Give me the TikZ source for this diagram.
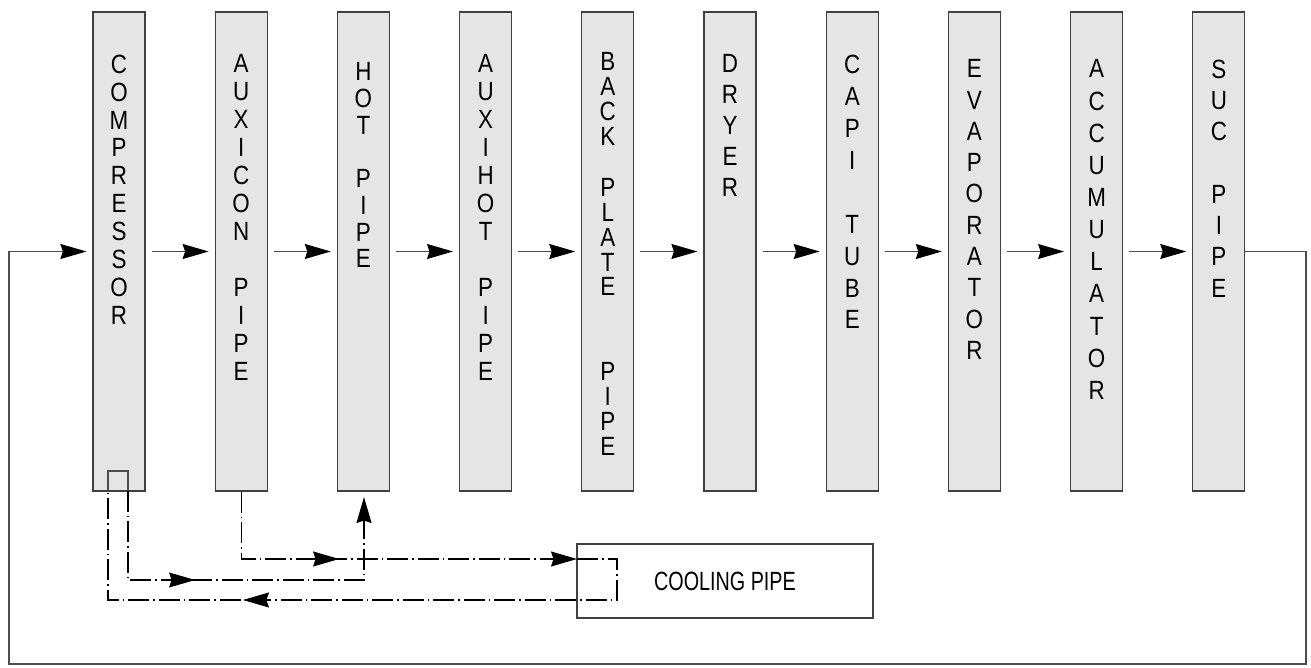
\documentclass[tikz,border=0pt]{standalone}
\usepackage{fontspec}
\setmainfont{Liberation Sans}[FakeStretch=0.85]
\newfontfamily\coolfont{Liberation Sans}[FakeStretch=0.75]
\usepackage{tikz}
\usetikzlibrary{arrows.meta, positioning, decorations.markings}

\begin{document}
\begin{tikzpicture}[
    x=0.02cm, y=-0.02cm,
    node distance=1.38cm,
    unit/.style={rectangle, draw=black!75, fill=black!10, line width=0.7pt, minimum width=1.04cm, minimum height=9.58cm, inner sep=0pt},
    word/.style={align=center, anchor=north, inner sep=0pt, font=\fontsize{15}{#1}\selectfont},
    link/.style={draw=black!70, line width=0.6pt},
    arrow/.style={link, -{Stealth[length=0.52cm, width=0.3cm, inset=0.05cm, black]}, shorten <=0.12cm, shorten >=0.12cm},
    coolant/.style={draw=black, line width=0.6pt, dash pattern=on 0.42cm off 0.08cm on 0.03cm off 0.08cm},
    endtip/.style={-{Stealth[length=0.52cm, width=0.3cm, inset=0.05cm]}},
    midtip/.style={postaction={decorate, decoration={markings, mark=at position #1 with {\arrow{Stealth[length=0.52cm, width=0.3cm, inset=0.05cm]}}}}}
]
\useasboundingbox (0,0) rectangle (1311,668);

% Refrigerant circuit
\node[unit] (comp) at (119,251.5) {};
\node[unit, right=of comp] (auxicon) {};
\node[unit, right=of auxicon] (hot) {};
\node[unit, right=of hot] (auxihot) {};
\node[unit, right=of auxihot] (backplate) {};
\node[unit, right=of backplate] (dryer) {};
\node[unit, right=of dryer] (capi) {};
\node[unit, right=of capi] (evap) {};
\node[unit, right=of evap] (accum) {};
\node[unit, right=of accum] (suc) {};

% Names
\node[word=15.9pt, below=0.86cm of comp.north] (comp-t) {C\\O\\M\\P\\R\\E\\S\\S\\O\\R};
\node[word=15.9pt, below=0.86cm of auxicon.north] (auxicon-t) {A\\U\\X\\I\\C\\O\\N\\~\\P\\I\\P\\E};
\node[word=15.2pt, below=1.02cm of hot.north] (hot-t) {H\\O\\T\\~\\P\\I\\P\\E};
\node[word=15.9pt, below=0.86cm of auxihot.north] (auxihot-t) {A\\U\\X\\I\\H\\O\\T\\~\\P\\I\\P\\E};
\node[word=14.2pt, below=0.82cm of backplate.north] (backplate-t) {B\\A\\C\\K\\[14.5pt]P\\L\\A\\T\\E\\[34pt]P\\I\\P\\E};
\node[word=17.6pt, below=0.86cm of dryer.north] (dryer-t) {D\\R\\Y\\E\\R};
\node[word=18.2pt, below=0.86cm of capi.north] (capi-t) {C\\A\\P\\I\\~\\T\\U\\B\\E};
\node[word=17.8pt, below=0.96cm of evap.north] (evap-t) {E\\V\\A\\P\\O\\R\\A\\T\\O\\R};
\node[word=18.3pt, below=0.96cm of accum.north] (accum-t) {A\\C\\C\\U\\M\\U\\L\\A\\T\\O\\R};
\node[word=17.8pt, below=0.96cm of suc.north] (suc-t) {S\\U\\C\\~\\P\\I\\P\\E};

% Cooling branch
\node[draw=black!75, line width=0.7pt, minimum width=5.92cm, minimum height=1.48cm, font=\coolfont\fontsize{15}{18}\selectfont] (cool) at (725,581) {COOLING PIPE};

% Arrows
\foreach \a/\b in {comp/auxicon, auxicon/hot, hot/auxihot, auxihot/backplate, backplate/dryer, dryer/capi, capi/evap, evap/accum, accum/suc}
    \draw[arrow] (\a) -- (\b);

\coordinate (loopr) at (1306,664);
\coordinate (loopl) at (9,664);
\draw[arrow, shorten <=0pt] (suc.east) -| (loopr) -- (loopl) |- (comp.west);

\coordinate (cin) at (577,559);
\coordinate (cturn) at (617,559);
\coordinate (cback) at (617,600);
\coordinate (cret) at (108,600);
\coordinate (pl) at (108,491);
\coordinate (pr) at (128,491);
\coordinate (hlow) at (364,580);
\coordinate (hport) at (364,491);

\draw[coolant, endtip, midtip=0.41] (auxicon.south) |- (cin);
\draw[coolant, midtip=0.651] (cin) -- (cturn) -- (cback) -- (cret) -- (pl);
\draw[link] (pl) -- ++(0,-20) -| (pr);
\draw[coolant, endtip, shorten >=0.12cm, midtip=0.377] (pr) |- (hlow) -- (hport);

\end{tikzpicture}
\end{document}
